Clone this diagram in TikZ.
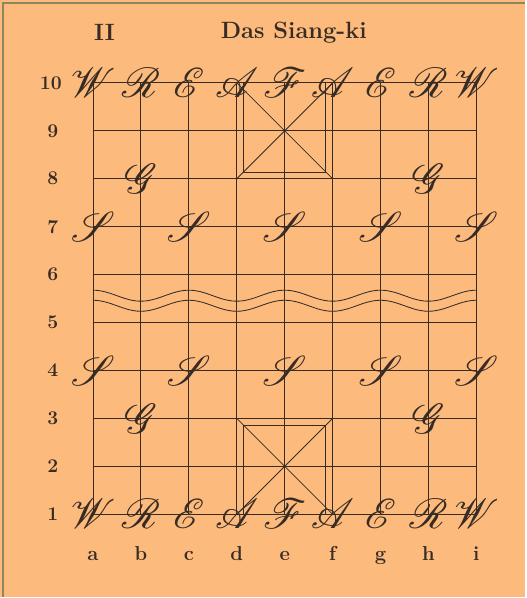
\documentclass[tikz,border=0pt]{standalone}
\usepackage{mathrsfs}
\definecolor{paper}{RGB}{253,186,125}
\definecolor{ink}{RGB}{55,44,36}
\definecolor{edge}{RGB}{140,135,95}

\begin{document}
\begin{tikzpicture}[line width=0.5pt,
  piece/.style={text=ink, inner sep=0pt, font=\fontsize{23}{26}\selectfont},
  rank/.style={text=ink, font=\bfseries\fontsize{11.5}{13}\selectfont},
  file/.style={text=ink, anchor=base, font=\bfseries\fontsize{12}{14}\selectfont},
  heading/.style={text=ink, font=\bfseries\fontsize{14}{16}\selectfont}]

\fill[paper] (-1.94,-1.73) rectangle (9.02,10.73);
\draw[edge,line width=1pt] (-1.88,-1.73) -- (-1.88,10.67) -- (9.02,10.67);

\node[heading] (num) at (0.24,10.05) {II};
\node[heading] (title) at (4.19,10.05) {Das Siang-ki};

% board
\draw[ink] (0,0) grid (8,9);
\draw[ink] (3,0) -- (5,2) (3,2) -- (5,0);
\draw[ink] (3.14,0) -- (3.14,1.86) -- (4.86,1.86) -- (4.86,0);
\draw[ink] (3,7) -- (5,9) (3,9) -- (5,7);
\draw[ink] (3.14,9) -- (3.14,7.14) -- (4.86,7.14) -- (4.86,9);
% river
\draw[ink] plot[domain=0:8,samples=97,smooth] (\x,{4.56+0.115*cos(180*\x)});
\draw[ink] plot[domain=0:8,samples=97,smooth] (\x,{4.35+0.115*cos(180*\x)});

\node[piece] (a10) at (0,9) {$\mathscr{W}$};
\node[piece] (b10) at (1,9) {$\mathscr{R}$};
\node[piece] (c10) at (2,9) {$\mathscr{E}$};
\node[piece] (d10) at (3,9) {$\mathscr{A}$};
\node[piece] (e10) at (4,9) {$\mathscr{F}$};
\node[piece] (f10) at (5,9) {$\mathscr{A}$};
\node[piece] (g10) at (6,9) {$\mathscr{E}$};
\node[piece] (h10) at (7,9) {$\mathscr{R}$};
\node[piece] (i10) at (8,9) {$\mathscr{W}$};
\node[piece] (b8) at (1,7) {$\mathscr{G}$};
\node[piece] (h8) at (7,7) {$\mathscr{G}$};
\node[piece] (a7) at (0,6) {$\mathscr{S}$};
\node[piece] (c7) at (2,6) {$\mathscr{S}$};
\node[piece] (e7) at (4,6) {$\mathscr{S}$};
\node[piece] (g7) at (6,6) {$\mathscr{S}$};
\node[piece] (i7) at (8,6) {$\mathscr{S}$};

\node[piece] (a4) at (0,3) {$\mathscr{S}$};
\node[piece] (c4) at (2,3) {$\mathscr{S}$};
\node[piece] (e4) at (4,3) {$\mathscr{S}$};
\node[piece] (g4) at (6,3) {$\mathscr{S}$};
\node[piece] (i4) at (8,3) {$\mathscr{S}$};
\node[piece] (b3) at (1,2) {$\mathscr{G}$};
\node[piece] (h3) at (7,2) {$\mathscr{G}$};
\node[piece] (a1) at (0,0) {$\mathscr{W}$};
\node[piece] (b1) at (1,0) {$\mathscr{R}$};
\node[piece] (c1) at (2,0) {$\mathscr{E}$};
\node[piece] (d1) at (3,0) {$\mathscr{A}$};
\node[piece] (e1) at (4,0) {$\mathscr{F}$};
\node[piece] (f1) at (5,0) {$\mathscr{A}$};
\node[piece] (g1) at (6,0) {$\mathscr{E}$};
\node[piece] (h1) at (7,0) {$\mathscr{R}$};
\node[piece] (i1) at (8,0) {$\mathscr{W}$};

\node[rank] (r10) at (-0.88,9) {10};
\node[rank] (r9) at (-0.84,8) {9};
\node[rank] (r8) at (-0.84,7) {8};
\node[rank] (r7) at (-0.84,6) {7};
\node[rank] (r6) at (-0.84,5) {6};
\node[rank] (r5) at (-0.84,4) {5};
\node[rank] (r4) at (-0.84,3) {4};
\node[rank] (r3) at (-0.84,2) {3};
\node[rank] (r2) at (-0.84,1) {2};
\node[rank] (r1) at (-0.84,0) {1};

\node[file] (fa) at (0,-0.96) {a};
\node[file] (fb) at (1,-0.96) {b};
\node[file] (fc) at (2,-0.96) {c};
\node[file] (fd) at (3,-0.96) {d};
\node[file] (fe) at (4,-0.96) {e};
\node[file] (ff) at (5,-0.96) {f};
\node[file] (fg) at (6,-0.96) {g};
\node[file] (fh) at (7,-0.96) {h};
\node[file] (fi) at (8,-0.96) {i};
\end{tikzpicture}
\end{document}
